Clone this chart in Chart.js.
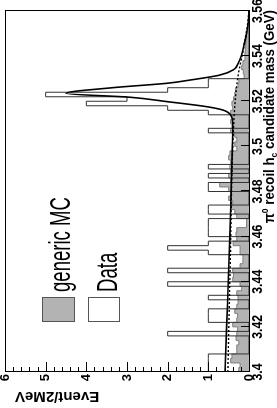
<!DOCTYPE html>
<html>
<head>
<meta charset="utf-8">
<title>pi0 recoil hc candidate mass</title>
<style>
  html, body { margin: 0; padding: 0; background: #fff; overflow: hidden; }
  /* the figure is drawn landscape and turned a quarter turn, like the original scan */
  #wrap { position: absolute; left: 0; top: 0; width: 408px; height: 277px;
          transform-origin: 0 0; transform: translate(0, 408px) rotate(-90deg); }
</style>
<script src="https://cdn.jsdelivr.net/npm/chart.js"></script>
</head>
<body>
<div id="wrap"><canvas id="c" width="408" height="277"></canvas></div>
<script>
// histogram binning (GeV)
const binStart = 3.4;
const binWidth = 0.002;

// data, events per 2 MeV bin, from 3.400 upwards
const dataCounts = [
  0,1,1,1,1,0,0,0,0,2,
  0,0,1,1,1,0,0,1,0,0,
  2,0,0,2,0,0,0,1,2,1,
  0,1,1,1,1,0,1,1,0,0,
  0,1,1,0,1,0,1,0,0,0,
  0,0,0,0,1,0,0,0,1,2,
  4,3,5,2,1,1,0,0,0,0,
  0,0,0,0,0,0,0,0,0,0
];

// generic MC, scaled, per 2 MeV bin
const mcCounts = [
  0.22,0.25,0.22,0.45,0.42,0.30,0.30,0.25,0.32,0.30,
  0.28,0.40,0.30,0.28,0.35,0.30,0.27,0.27,0.30,0.18,
  0.22,0.40,0.38,0.40,0.22,0.15,0.15,0.22,0.22,0.39,
  0.30,0.32,0.30,0.06,0.06,0.30,0.35,0.45,0.40,0.50,
  0.45,0.50,0.72,0.45,0.50,0.45,0.47,0.45,0.50,0.47,
  0.30,0.35,0.30,0.35,0.45,0.42,0.45,0.40,0.45,0.40,
  0.42,0.38,0.35,0.33,0.27,0.25,0.12,0.14,0.18,0.15,
  0.10,0.10,0.09,0.08,0.07,0.06,0.04,0.03,0.01,0.00
];

// fitted curve (signal + background)
const fitMass  = [3.400,3.420,3.440,3.460,3.480,3.500,3.510,3.5139,3.5161,3.5176,3.5198,3.5218,3.5235,3.526,3.528,3.5294,3.5316,3.534,3.537,3.540,3.545,3.550,3.555,3.560];
const fitTotal = [0.59,0.55,0.51,0.47,0.44,0.41,0.40,0.45,0.64,1.04,2.00,2.94,4.50,3.36,2.00,1.45,0.72,0.38,0.26,0.19,0.12,0.06,0.02,0.00];

// background part of the fit (dashed)
const bkgMass   = [3.400,3.450,3.500,3.520,3.530,3.535,3.540,3.545,3.550,3.555,3.560];
const bkgValues = [0.52,0.46,0.40,0.34,0.28,0.23,0.17,0.12,0.07,0.03,0.00];

// axis ticks
const massTicks = [3.40,3.42,3.44,3.46,3.48,3.50,3.52,3.54,3.56];
const massTickLabels = ['3.4','3.42','3.44','3.46','3.48','3.5','3.52','3.54','3.56'];
const yTicks = [0,1,2,3,4,5,6];
const yTickLabels = ['0','1','2','3','4','5','6'];

const legendLabels = ['generic MC', 'Data'];

// step histogram points: one point per lower bin edge, plus the last upper edge
function stepPoints(vals) {
  const pts = vals.map((v, i) => ({ x: binStart + i * binWidth, y: v }));
  pts.push({ x: binStart + vals.length * binWidth, y: vals[vals.length - 1] });
  return pts;
}

function drawText(ctx, txt, x, y, sx) {
  ctx.save();
  ctx.translate(x, y);
  ctx.scale(sx, 1);
  ctx.fillText(txt, 0, 0);
  ctx.restore();
}

const framePlugin = {
  id: 'frame',
  afterDraw(chart) {
    const ctx = chart.ctx;
    const a = chart.chartArea;
    const xs = chart.scales.x, ys = chart.scales.y;
    ctx.save();
    ctx.strokeStyle = '#000';
    ctx.fillStyle = '#000';
    ctx.lineWidth = 1;
    ctx.strokeRect(a.left + 0.5, a.top + 0.5, a.right - a.left, a.bottom - a.top);

    // y ticks inside the frame, minor every 0.2
    ctx.beginPath();
    for (let k = 0; k <= 30; k++) {
      const py = Math.round(ys.getPixelForValue(k * 0.2)) + 0.5;
      const len = (k % 5 === 0) ? 10 : 5;
      ctx.moveTo(a.left, py);
      ctx.lineTo(a.left + len, py);
    }
    // mass ticks
    massTicks.forEach(m => {
      const px = Math.round(xs.getPixelForValue(m)) + 0.5;
      ctx.moveTo(px, a.bottom);
      ctx.lineTo(px, a.bottom - 8);
    });
    ctx.stroke();

    // y tick labels
    ctx.font = 'bold 13px "Liberation Sans", Arial, sans-serif';
    ctx.textAlign = 'right';
    ctx.textBaseline = 'middle';
    yTicks.forEach((v, i) => {
      ctx.fillText(yTickLabels[i], a.left - 2, ys.getPixelForValue(v));
    });

    // mass tick labels (narrow, like the scanned figure)
    ctx.font = 'bold 14px "Liberation Sans", Arial, sans-serif';
    ctx.textAlign = 'center';
    ctx.textBaseline = 'alphabetic';
    massTicks.forEach((m, i) => {
      drawText(ctx, massTickLabels[i], xs.getPixelForValue(m), a.bottom + 13, 0.88);
    });

    // x title, right aligned: pi^0 recoil h_c candidate mass (GeV)
    const big = 'bold 14px "Liberation Sans", Arial, sans-serif';
    const small = 'bold 9px "Liberation Sans", Arial, sans-serif';
    const parts = [
      ['\u03c0', big, 0], ['0', small, -6], [' recoil h', big, 0], ['c', small, 3],
      [' candidate mass (GeV)', big, 0]
    ];
    const sx = 0.95;
    let w = 0;
    parts.forEach(p => { ctx.font = p[1]; w += ctx.measureText(p[0]).width * sx; });
    let px = a.right + 1 - w;
    const base = a.bottom + 25;
    ctx.textAlign = 'left';
    parts.forEach(p => {
      ctx.font = p[1];
      drawText(ctx, p[0], px, base + p[2], sx);
      px += ctx.measureText(p[0]).width * sx;
    });

    // y title, rotated, at the top of the axis
    ctx.save();
    ctx.translate(16, a.top + 10);
    ctx.rotate(-Math.PI / 2);
    ctx.font = 'bold 15px "Liberation Sans", Arial, sans-serif';
    ctx.textAlign = 'right';
    ctx.fillText('Event/2MeV', 0, 0);
    ctx.restore();

    // legend
    const lx = a.left + 50;
    ctx.fillStyle = '#b3b3b3';
    ctx.fillRect(lx, a.top + 37, 24, 32);
    ctx.strokeStyle = '#555';
    ctx.strokeRect(lx + 0.5, a.top + 37.5, 24, 32);
    ctx.fillStyle = '#fff';
    ctx.fillRect(lx, a.top + 83, 24, 31);
    ctx.strokeStyle = '#555';
    ctx.strokeRect(lx + 0.5, a.top + 83.5, 24, 31);
    ctx.fillStyle = '#000';
    ctx.font = '29px "Liberation Sans", Arial, sans-serif';
    ctx.textAlign = 'left';
    drawText(ctx, legendLabels[0], lx + 30, a.top + 65, 0.64);
    drawText(ctx, legendLabels[1], lx + 30, a.top + 112, 0.64);
    ctx.restore();
  }
};

new Chart(document.getElementById('c'), {
  type: 'line',
  data: {
    datasets: [
      {
        label: 'fit',
        data: fitMass.map((m, i) => ({ x: m, y: fitTotal[i] })),
        borderColor: '#000',
        borderWidth: 1.6,
        pointRadius: 0,
        cubicInterpolationMode: 'monotone',
        fill: false,
        order: 0
      },
      {
        label: 'background',
        data: bkgMass.map((m, i) => ({ x: m, y: bkgValues[i] })),
        borderColor: '#000',
        borderWidth: 1.4,
        borderDash: [2, 2],
        pointRadius: 0,
        cubicInterpolationMode: 'monotone',
        fill: false,
        order: 1
      },
      {
        label: legendLabels[1],
        data: stepPoints(dataCounts),
        stepped: 'after',
        borderColor: '#333',
        borderWidth: 1,
        pointRadius: 0,
        fill: false,
        order: 2
      },
      {
        label: legendLabels[0],
        data: stepPoints(mcCounts),
        stepped: 'after',
        borderColor: '#7f7f7f',
        borderWidth: 1,
        backgroundColor: '#b3b3b3',
        pointRadius: 0,
        fill: 'origin',
        order: 3
      }
    ]
  },
  options: {
    responsive: false,
    animation: false,
    devicePixelRatio: 1,
    layout: { padding: { left: 36, right: 11, top: 5, bottom: 28 } },
    plugins: { legend: { display: false }, tooltip: { enabled: false } },
    scales: {
      x: {
        type: 'linear', min: 3.4, max: 3.56,
        ticks: { display: false },
        grid: { display: false, drawTicks: false },
        border: { display: false }
      },
      y: {
        min: 0, max: 6,
        ticks: { display: false },
        grid: { display: false, drawTicks: false },
        border: { display: false }
      }
    }
  },
  plugins: [framePlugin]
});
</script>
</body>
</html>
